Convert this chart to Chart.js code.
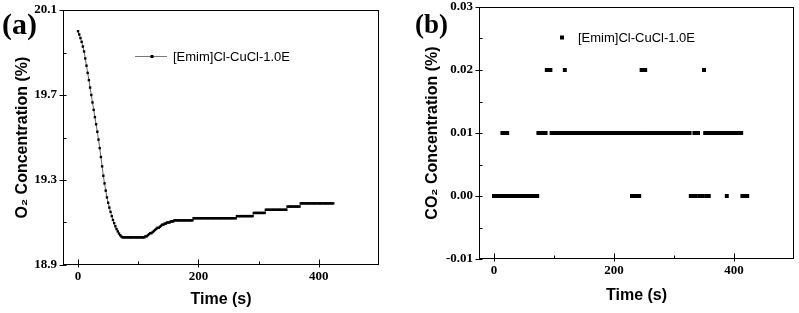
<!DOCTYPE html>
<html>
<head>
<meta charset="utf-8">
<script src="https://cdn.jsdelivr.net/npm/chart.js@4.4.1/dist/chart.umd.min.js"></script>
<style>
body { margin: 0; background: #fff; width: 799px; height: 313px; position: relative; overflow: hidden; }
canvas { position: absolute; top: 0; }
#grafikO2 { left: 0; }
#grafikCO2 { left: 399px; }
.panel { position: absolute; font-family: "Liberation Serif", "Times New Roman", serif; font-weight: bold; color: #000; line-height: 1; }
</style>
</head>
<body>
<canvas id="grafikO2" width="399" height="313"></canvas>
<canvas id="grafikCO2" width="400" height="313"></canvas>
<div class="panel" style="left:2px;top:9px;font-size:30px">(a)</div>
<div class="panel" style="left:415px;top:11px;font-size:27px">(b)</div>
<script>
// waktu sampel (s)
const waktu = [
    0, 2, 4, 6, 8, 10, 12, 14, 16, 18, 20, 22, 24, 26, 28, 30, 32, 34, 36, 38,
    40, 42, 44, 46, 48, 50, 52, 54, 56, 58, 60, 62, 64, 66, 68, 70, 72, 74, 76, 78,
    80, 82, 84, 86, 88, 90, 92, 94, 96, 98, 100, 102, 104, 106, 108, 110, 112, 114, 116, 118,
    120, 122, 124, 126, 128, 130, 132, 134, 136, 138, 140, 142, 144, 146, 148, 150, 152, 154, 156, 158,
    160, 162, 164, 166, 168, 170, 172, 174, 176, 178, 180, 182, 184, 186, 188, 190, 192, 194, 196, 198,
    200, 202, 204, 206, 208, 210, 212, 214, 216, 218, 220, 222, 224, 226, 228, 230, 232, 234, 236, 238,
    240, 242, 244, 246, 248, 250, 252, 254, 256, 258, 260, 262, 264, 266, 268, 270, 272, 274, 276, 278,
    280, 282, 284, 286, 288, 290, 292, 294, 296, 298, 300, 302, 304, 306, 308, 310, 312, 314, 316, 318,
    320, 322, 324, 326, 328, 330, 332, 334, 336, 338, 340, 342, 344, 346, 348, 350, 352, 354, 356, 358,
    360, 362, 364, 366, 368, 370, 372, 374, 376, 378, 380, 382, 384, 386, 388, 390, 392, 394, 396, 398,
    400, 402, 404, 406, 408, 410, 412, 414, 416, 418, 420, 422, 424
];

// konsentrasi O2 (%)
const o2Persen = [
    // 0 - 72 s
    20.00, 19.985, 19.968, 19.95, 19.928, 19.905, 19.872, 19.838, 19.804, 19.77,
    19.735, 19.70, 19.665, 19.63, 19.596, 19.562, 19.527, 19.49, 19.45, 19.408,
    19.364, 19.32, 19.284, 19.25, 19.218, 19.193, 19.17, 19.15, 19.13, 19.112,
    19.097, 19.082, 19.069, 19.058, 19.048, 19.04, 19.034,
    // 74 - 110 s
    19.03, 19.03, 19.03, 19.03, 19.03, 19.03, 19.03, 19.03, 19.03, 19.03,
    19.03, 19.03, 19.03, 19.03, 19.03, 19.03, 19.03, 19.03, 19.03,
    // 112 - 158 s
    19.035, 19.035, 19.04, 19.045, 19.05, 19.05, 19.055, 19.06, 19.065, 19.07,
    19.075, 19.075, 19.08, 19.085, 19.09, 19.09, 19.095, 19.095, 19.10, 19.10,
    19.10, 19.105, 19.105, 19.105,
    // 160 - 190 s
    19.11, 19.11, 19.11, 19.11, 19.11, 19.11, 19.11, 19.11, 19.11, 19.11,
    19.11, 19.11, 19.11, 19.11, 19.11, 19.11,
    // 192 - 262 s
    19.12, 19.12, 19.12, 19.12, 19.12, 19.12, 19.12, 19.12, 19.12, 19.12,
    19.12, 19.12, 19.12, 19.12, 19.12, 19.12, 19.12, 19.12, 19.12, 19.12,
    19.12, 19.12, 19.12, 19.12, 19.12, 19.12, 19.12, 19.12, 19.12, 19.12,
    19.12, 19.12, 19.12, 19.12, 19.12, 19.12,
    // 264 - 290 s
    19.13, 19.13, 19.13, 19.13, 19.13, 19.13, 19.13, 19.13, 19.13, 19.13,
    19.13, 19.13, 19.13, 19.13,
    // 292 - 310 s
    19.145, 19.145, 19.145, 19.145, 19.145, 19.145, 19.145, 19.145, 19.145, 19.145,
    // 312 - 346 s
    19.16, 19.16, 19.16, 19.16, 19.16, 19.16, 19.16, 19.16, 19.16, 19.16,
    19.16, 19.16, 19.16, 19.16, 19.16, 19.16, 19.16, 19.16,
    // 348 - 368 s
    19.175, 19.175, 19.175, 19.175, 19.175, 19.175, 19.175, 19.175, 19.175, 19.175,
    19.175,
    // 370 - 424 s
    19.19, 19.19, 19.19, 19.19, 19.19, 19.19, 19.19, 19.19, 19.19, 19.19,
    19.19, 19.19, 19.19, 19.19, 19.19, 19.19, 19.19, 19.19, 19.19, 19.19,
    19.19, 19.19, 19.19, 19.19, 19.19, 19.19, 19.19, 19.19
];

// konsentrasi CO2 (%), 0 - 422 s
const co2Persen = [
    // 0 - 10 s
    0, 0, 0, 0, 0, 0,
    // 12 - 24 s
    0, 0.01, 0, 0.01, 0, 0.01, 0,
    // 26 - 72 s
    0, 0, 0, 0, 0, 0, 0, 0, 0, 0, 0, 0, 0, 0, 0, 0, 0, 0, 0, 0, 0, 0, 0, 0,
    // 74 - 86 s
    0.01, 0.01, 0.01, 0.01, 0.01, 0.01, 0.01,
    // 88 - 94 s
    0.02, 0.02, 0.02, 0.02,
    // 96 - 116 s
    0.01, 0.01, 0.01, 0.01, 0.01, 0.01, 0.01, 0.01, 0.01, 0.01, 0.01,
    // 118 s
    0.02,
    // 120 - 228 s
    0.01, 0.01, 0.01, 0.01, 0.01, 0.01, 0.01, 0.01, 0.01, 0.01,
    0.01, 0.01, 0.01, 0.01, 0.01, 0.01, 0.01, 0.01, 0.01, 0.01,
    0.01, 0.01, 0.01, 0.01, 0.01, 0.01, 0.01, 0.01, 0.01, 0.01,
    0.01, 0.01, 0.01, 0.01, 0.01, 0.01, 0.01, 0.01, 0.01, 0.01,
    0.01, 0.01, 0.01, 0.01, 0.01, 0.01, 0.01, 0.01, 0.01, 0.01,
    0.01, 0.01, 0.01, 0.01, 0.01,
    // 230 - 252 s
    0, 0.01, 0, 0.01, 0, 0.01, 0, 0.01, 0.02, 0.02, 0.01, 0.02,
    // 254 - 326 s
    0.01, 0.01, 0.01, 0.01, 0.01, 0.01, 0.01, 0.01, 0.01, 0.01,
    0.01, 0.01, 0.01, 0.01, 0.01, 0.01, 0.01, 0.01, 0.01, 0.01,
    0.01, 0.01, 0.01, 0.01, 0.01, 0.01, 0.01, 0.01, 0.01, 0.01,
    0.01, 0.01, 0.01, 0.01, 0.01, 0.01, 0.01,
    // 328 - 358 s
    0, 0, 0, 0.01, 0, 0.01, 0.01, 0, 0, 0, 0, 0.02, 0.01, 0, 0.01, 0,
    // 360 - 386 s
    0.01, 0.01, 0.01, 0.01, 0.01, 0.01, 0.01, 0.01, 0.01, 0.01, 0.01, 0.01, 0.01, 0.01,
    // 388 s
    0,
    // 390 - 412 s
    0.01, 0.01, 0.01, 0.01, 0.01, 0.01, 0.01, 0.01, 0.01, 0.01, 0.01, 0.01,
    // 414 - 422 s
    0, 0, 0, 0, 0
];

const labelSeri = '[Emim]Cl-CuCl-1.0E';
const xTicks = [0, 100, 200, 300, 400];
const o2Ticks = [18.9, 19.1, 19.3, 19.5, 19.7, 19.9, 20.1];
const co2Ticks = [-0.01, -0.005, 0, 0.005, 0.01, 0.015, 0.02, 0.025, 0.03];

const fontAngka = { family: '"Liberation Serif", "Times New Roman", serif', size: 13, weight: 'bold' };
const fontJudul = { family: '"Liberation Sans", Arial, sans-serif', size: 16, weight: 'bold' };

// bingkai kotak + tick ke dalam
const bingkai = {
    id: 'bingkai',
    afterDraw(chart) {
        const { ctx, chartArea: a, scales } = chart;
        ctx.save();
        ctx.strokeStyle = '#000';
        ctx.lineWidth = 1;
        ctx.strokeRect(Math.round(a.left) + 0.5, Math.round(a.top) + 0.5,
            Math.round(a.right - a.left) - 1, Math.round(a.bottom - a.top) - 1);
        ctx.beginPath();
        const bawah = Math.round(a.bottom) - 0.5;
        scales.x.ticks.forEach(t => {
            const px = Math.round(scales.x.getPixelForValue(t.value)) + 0.5;
            const major = t.label !== '';
            ctx.moveTo(px, bawah + (major ? 3 : 0));
            ctx.lineTo(px, bawah - (major ? 5 : 3));
        });
        const kiri = Math.round(a.left) + 0.5;
        scales.y.ticks.forEach(t => {
            const py = Math.round(scales.y.getPixelForValue(t.value)) + 0.5;
            const major = t.label !== '';
            ctx.moveTo(kiri - (major ? 4 : 0), py);
            ctx.lineTo(kiri + 3, py);
        });
        ctx.stroke();
        ctx.restore();
    }
};

// legenda di dalam area plot
const legendaDalam = {
    id: 'legendaDalam',
    afterDatasetsDraw(chart, args, opts) {
        const { ctx, chartArea: a } = chart;
        const ds = chart.data.datasets[0];
        const x = a.left + opts.dx;
        const y = a.top + opts.dy;
        ctx.save();
        if (opts.garis) {
            ctx.strokeStyle = '#777';
            ctx.lineWidth = 1;
            ctx.beginPath();
            ctx.moveTo(x - 17, y + 0.5);
            ctx.lineTo(x + 15, y + 0.5);
            ctx.stroke();
        }
        ctx.fillStyle = '#000';
        ctx.fillRect(x - opts.kotak / 2, y - opts.kotak / 2 + 0.5, opts.kotak, opts.kotak);
        ctx.font = '13px "Liberation Sans", Arial, sans-serif';
        ctx.textBaseline = 'middle';
        ctx.fillText(ds.label, x + opts.teks, y + 1);
        ctx.restore();
    }
};

function skalaX(tinggi) {
    return {
        type: 'linear',
        min: -25,
        max: 500,
        afterBuildTicks: s => { s.ticks = xTicks.map(v => ({ value: v })); },
        afterFit: s => { s.height = tinggi; s.paddingLeft = 0; s.paddingRight = 0; },
        grid: { display: false, drawTicks: false },
        border: { display: false },
        ticks: {
            font: fontAngka, color: '#000', padding: 4, maxRotation: 0,
            callback: v => (v % 200 === 0 ? String(v) : '')
        },
        title: { display: true, text: 'Time (s)', font: fontJudul, color: '#000' }
    };
}

function skalaY(lebar, min, max, daftar, desimal, judul) {
    return {
        min: min,
        max: max,
        afterBuildTicks: s => { s.ticks = daftar.map(v => ({ value: v })); },
        afterFit: s => { s.width = lebar; s.paddingTop = 0; s.paddingBottom = 0; },
        grid: { display: false, drawTicks: false },
        border: { display: false },
        ticks: {
            font: fontAngka, color: '#000', padding: 6,
            callback: (v, i) => (i % 2 === 0 ? v.toFixed(desimal) : '')
        },
        title: { display: true, text: judul, font: fontJudul, color: '#000' }
    };
}

new Chart(document.getElementById('grafikO2'), {
    type: 'line',
    data: {
        datasets: [{
            label: labelSeri,
            data: waktu.map((t, i) => ({ x: t, y: o2Persen[i] })),
            borderColor: '#666',
            borderWidth: 1,
            pointStyle: 'rect',
            pointRadius: 1.7,
            pointBackgroundColor: '#000',
            pointBorderWidth: 0,
            tension: 0
        }]
    },
    options: {
        responsive: false,
        animation: false,
        devicePixelRatio: 1,
        layout: { padding: { left: 9, right: 20, top: 10, bottom: 0 } },
        scales: {
            x: skalaX(48),
            y: skalaY(54, 18.9, 20.1, o2Ticks, 1, 'O₂ Concentration (%)')
        },
        plugins: {
            legend: { display: false },
            tooltip: { enabled: false },
            legendaDalam: { dx: 89, dy: 46, garis: true, kotak: 3, teks: 21 }
        }
    },
    plugins: [bingkai, legendaDalam]
});

new Chart(document.getElementById('grafikCO2'), {
    type: 'scatter',
    data: {
        datasets: [{
            label: labelSeri,
            data: co2Persen.map((v, i) => ({ x: waktu[i], y: v })),
            showLine: false,
            pointStyle: 'rect',
            pointRadius: 2.8,
            pointBackgroundColor: '#000',
            pointBorderWidth: 0
        }]
    },
    options: {
        responsive: false,
        animation: false,
        devicePixelRatio: 1,
        layout: { padding: { left: 20, right: 5, top: 7, bottom: 4 } },
        scales: {
            x: skalaX(50),
            y: skalaY(60, -0.01, 0.03, co2Ticks, 2, 'CO₂ Concentration (%)')
        },
        plugins: {
            legend: { display: false },
            tooltip: { enabled: false },
            legendaDalam: { dx: 83, dy: 30, garis: false, kotak: 4, teks: 16 }
        }
    },
    plugins: [bingkai, legendaDalam]
});
</script>
</body>
</html>
